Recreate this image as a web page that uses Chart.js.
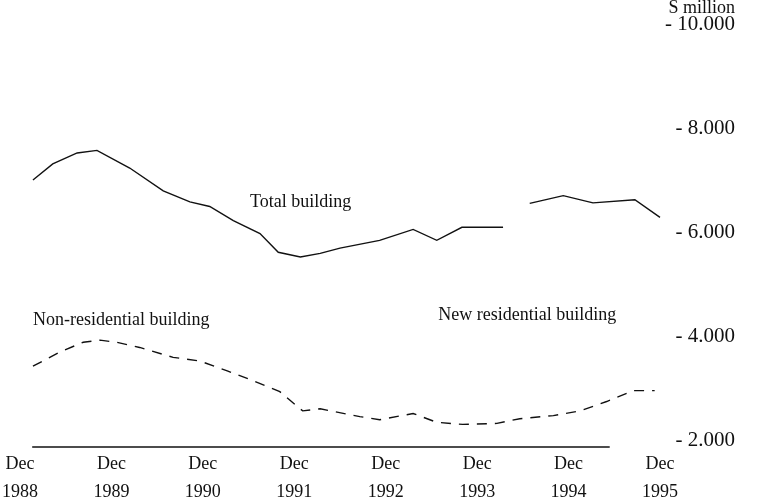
<!DOCTYPE html>
<html>
<head>
<meta charset="utf-8">
<script src="https://cdn.jsdelivr.net/npm/chart.js@4.4.1/dist/chart.umd.min.js"></script>
<style>
    html, body { margin: 0; padding: 0; background: #fff; }
    #wrap { width: 760px; height: 504px; }
</style>
</head>
<body>
<div id="wrap"><canvas id="chart" width="760" height="504"></canvas></div>
<script>
// x values are months after Dec 1988, y values in $ million
const totalMonths = [1.7, 4.3, 7.5, 10.1, 14.4, 18.8, 22.3, 24.9, 28, 31.5, 33.9, 36.8, 39.4, 42, 47.2, 51.6, 54.7, 58, 63.4, 65, 66.9, 71.3, 75.2, 80.7, 84];
const totalValues = [7000, 7310, 7520, 7570, 7230, 6790, 6580, 6490, 6220, 5970, 5610, 5520, 5590, 5690, 5840, 6050, 5840, 6090, 6090, null, 6550, 6700, 6560, 6620, 6280];

const nonResMonths = [1.7, 5.2, 8.3, 10.5, 12.7, 15.7, 20.1, 23.6, 27.2, 30.6, 34.1, 37.1, 39.4, 44.6, 47.2, 51.6, 54.7, 58.1, 62.6, 65.6, 70, 73.5, 77, 80.5, 83.3];
const nonResValues = [3420, 3690, 3880, 3920, 3880, 3780, 3590, 3520, 3330, 3140, 2930, 2560, 2600, 2450, 2390, 2510, 2340, 2300, 2320, 2410, 2470, 2560, 2740, 2950, 2950];

const baseMonths = [1.6, 77.4];
const baseValues = [1865, 1865];

const xTickMonths = [0, 12, 24, 36, 48, 60, 72, 84];
const xTickYears = ['1988', '1989', '1990', '1991', '1992', '1993', '1994', '1995'];
const yTickValues = [2000, 4000, 6000, 8000, 10000];
const yTickLabels = ['2.000', '4.000', '6.000', '8.000', '10.000'];

const unitLabel = 'S million';
const seriesNames = ['Total building', 'Non-residential building', 'New residential building'];

const FONT = "'Liberation Serif', 'DejaVu Serif', serif";
const INK = '#111';

function toPoints(xs, ys) {
    return xs.map((m, i) => ({ x: m, y: ys[i] }));
}

// series names and unit written next to the lines, like the printed chart
const textLabels = {
    id: 'textLabels',
    afterDraw(chart) {
        const { ctx, scales: { x, y } } = chart;
        ctx.save();
        ctx.fillStyle = INK;
        ctx.font = '18px ' + FONT;
        ctx.textBaseline = 'middle';
        ctx.textAlign = 'left';
        ctx.fillText(seriesNames[0], x.getPixelForValue(30.2), y.getPixelForValue(6580));
        ctx.fillText(seriesNames[1], x.getPixelForValue(1.7), y.getPixelForValue(4300));
        ctx.fillText(seriesNames[2], x.getPixelForValue(54.9), y.getPixelForValue(4390));
        ctx.textAlign = 'right';
        ctx.fillText(unitLabel, y.right, 8);
        ctx.restore();
    }
};

new Chart(document.getElementById('chart'), {
    type: 'line',
    data: {
        datasets: [
            {
                label: seriesNames[0],
                data: toPoints(totalMonths, totalValues),
                borderColor: INK,
                borderWidth: 1.4,
                pointRadius: 0,
                spanGaps: false,
                tension: 0,
                clip: false
            },
            {
                label: seriesNames[1],
                data: toPoints(nonResMonths, nonResValues),
                borderColor: INK,
                borderWidth: 1.4,
                borderDash: [10, 8],
                pointRadius: 0,
                tension: 0,
                clip: false
            },
            {
                label: 'baseline',
                data: toPoints(baseMonths, baseValues),
                borderColor: INK,
                borderWidth: 1.4,
                pointRadius: 0,
                clip: false
            }
        ]
    },
    options: {
        responsive: false,
        animation: false,
        events: [],
        layout: { padding: { left: 20, right: 25, top: 14, bottom: 0 } },
        plugins: { legend: { display: false }, tooltip: { enabled: false } },
        scales: {
            x: {
                type: 'linear',
                min: 0,
                max: 84,
                grid: { display: false, drawTicks: false },
                border: { display: false },
                afterFit: s => { s.height = 54; },
                afterBuildTicks: s => { s.ticks = xTickMonths.map(v => ({ value: v })); },
                ticks: {
                    padding: 0,
                    maxRotation: 0,
                    autoSkip: false,
                    color: INK,
                    font: { family: FONT, size: 18, lineHeight: 1.55 },
                    callback: (v) => ['Dec', xTickYears[xTickMonths.indexOf(v)]]
                }
            },
            y: {
                position: 'right',
                min: 1808,
                max: 10192,
                grid: { display: false, drawTicks: false },
                border: { display: false },
                afterFit: s => { s.width = 75; },
                afterBuildTicks: s => { s.ticks = yTickValues.map(v => ({ value: v })); },
                ticks: {
                    padding: 0,
                    crossAlign: 'far',
                    color: INK,
                    font: { family: FONT, size: 21 },
                    callback: (v) => '- ' + yTickLabels[yTickValues.indexOf(v)]
                }
            }
        }
    },
    plugins: [textLabels]
});
</script>
</body>
</html>
